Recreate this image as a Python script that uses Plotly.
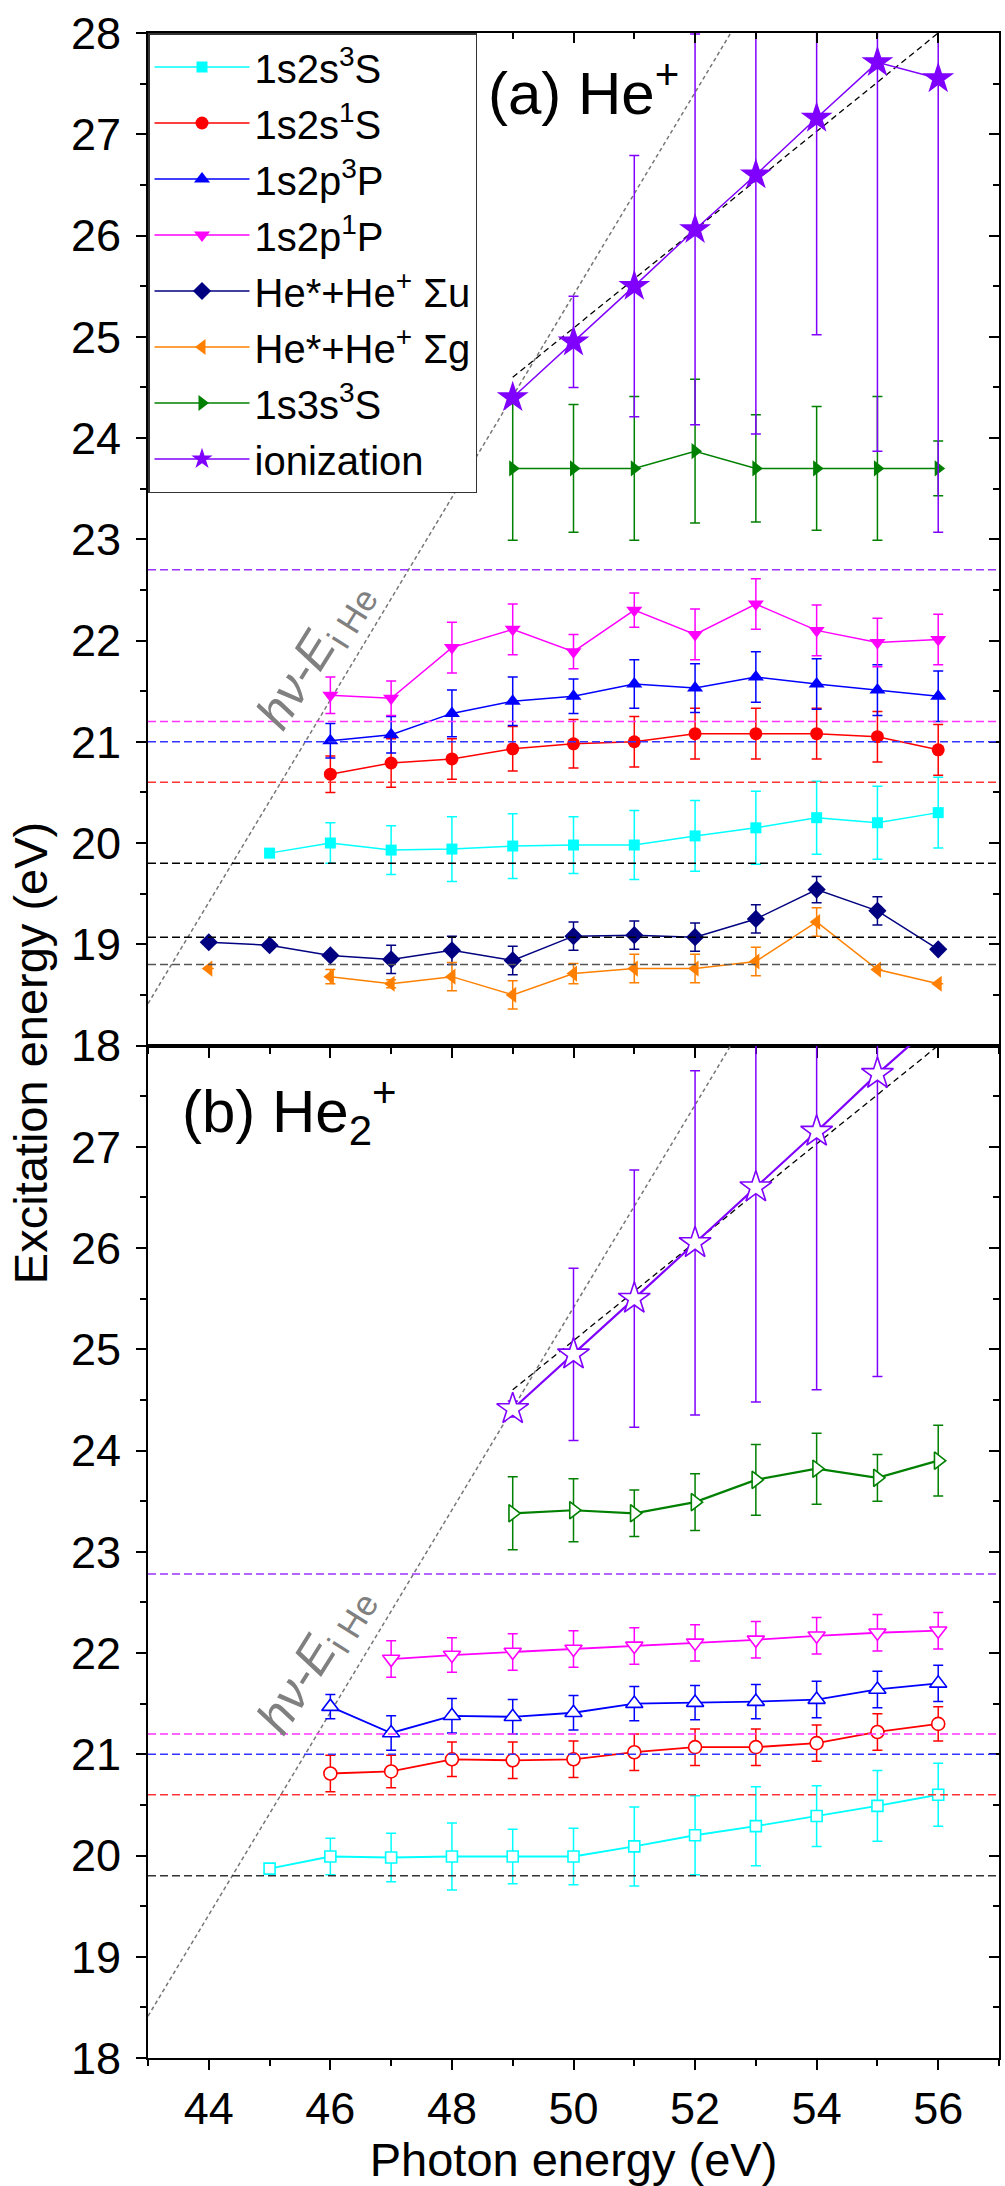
import plotly.graph_objects as go
from plotly.subplots import make_subplots

FONT = "Liberation Sans, Arial, Helvetica, sans-serif"

# ---------------- data : panel (a) He+ ----------------
a_3S_x = [45, 46, 47, 48, 49, 50, 51, 52, 53, 54, 55, 56]
a_3S_y = [19.90, 20.00, 19.93, 19.94, 19.97, 19.98, 19.98, 20.07, 20.15, 20.25, 20.20, 20.30]
a_3S_e = [0, 0.20, 0.24, 0.32, 0.32, 0.28, 0.34, 0.35, 0.36, 0.36, 0.36, 0.35]

a_1S_x = [46, 47, 48, 49, 50, 51, 52, 53, 54, 55, 56]
a_1S_y = [20.68, 20.79, 20.83, 20.93, 20.98, 21.00, 21.08, 21.08, 21.08, 21.05, 20.92]
a_1S_e = [0.18, 0.24, 0.20, 0.22, 0.24, 0.25, 0.25, 0.25, 0.25, 0.25, 0.25]

a_3P_x = [46, 47, 48, 49, 50, 51, 52, 53, 54, 55, 56]
a_3P_y = [21.01, 21.07, 21.28, 21.40, 21.45, 21.57, 21.53, 21.64, 21.57, 21.51, 21.45]
a_3P_e = [0.17, 0.18, 0.23, 0.24, 0.17, 0.24, 0.24, 0.25, 0.25, 0.25, 0.25]

a_1P_x = [46, 47, 48, 49, 50, 51, 52, 53, 54, 55, 56]
a_1P_y = [21.46, 21.43, 21.93, 22.11, 21.89, 22.30, 22.06, 22.36, 22.10, 21.98, 22.01]
a_1P_e = [0.18, 0.17, 0.25, 0.25, 0.17, 0.17, 0.25, 0.25, 0.25, 0.24, 0.25]

a_Su_x = [44, 45, 46, 47, 48, 49, 50, 51, 52, 53, 54, 55, 56]
a_Su_y = [19.02, 18.99, 18.89, 18.85, 18.94, 18.84, 19.08, 19.09, 19.07, 19.25, 19.54, 19.33, 18.95]
a_Su_e = [0, 0, 0, 0.14, 0.14, 0.14, 0.14, 0.14, 0.14, 0.14, 0.13, 0.14, 0]

a_Sg_x = [44, 45, 46, 47, 48, 49, 50, 51, 52, 53, 54, 55, 56]
a_Sg_y = [18.76, None, 18.68, 18.61, 18.68, 18.50, 18.71, 18.76, 18.76, 18.83, 19.22, 18.75, 18.61]
a_Sg_e = [0, 0, 0.07, 0.04, 0.14, 0.14, 0.10, 0.14, 0.14, 0.14, 0.14, 0, 0]

a_3s_x = [49, 50, 51, 52, 53, 54, 55, 56]
a_3s_y = [23.70, 23.70, 23.70, 23.87, 23.70, 23.70, 23.70, 23.70]
a_3s_e = [0.71, 0.63, 0.71, 0.71, 0.53, 0.61, 0.71, 0.27]

a_ion_x = [49, 50, 51, 52, 53, 54, 55, 56]
a_ion_y = [24.40, 24.95, 25.50, 26.06, 26.60, 27.16, 27.71, 27.55]
a_ion_e = [0, 0.45, 1.29, 1.93, 2.56, 2.14, 3.84, 4.48]

a_levels = [22.70, 21.20, 21.00, 20.60, 19.80, 19.07, 18.80]
a_level_colors = ["#9933FF", "#FF33FF", "#3333FF", "#FF3333", "#000000", "#000000", "#555555"]

# ---------------- data : panel (b) He2+ ----------------
b_3S_x = [45, 46, 47, 48, 49, 50, 51, 52, 53, 54, 55, 56]
b_3S_y = [19.87, 19.99, 19.98, 19.99, 19.99, 19.99, 20.09, 20.20, 20.29, 20.39, 20.49, 20.60]
b_3S_e = [0, 0.18, 0.24, 0.33, 0.27, 0.28, 0.39, 0.39, 0.39, 0.30, 0.35, 0.31]

b_1S_x = [46, 47, 48, 49, 50, 51, 52, 53, 54, 55, 56]
b_1S_y = [20.81, 20.83, 20.95, 20.94, 20.95, 21.02, 21.07, 21.07, 21.11, 21.22, 21.30]
b_1S_e = [0.18, 0.16, 0.17, 0.18, 0.18, 0.18, 0.18, 0.18, 0.18, 0.18, 0.17]

b_3P_x = [46, 47, 48, 49, 50, 51, 52, 53, 54, 55, 56]
b_3P_y = [21.47, 21.21, 21.38, 21.37, 21.41, 21.50, 21.51, 21.52, 21.54, 21.64, 21.70]
b_3P_e = [0.12, 0.17, 0.17, 0.17, 0.17, 0.17, 0.17, 0.17, 0.18, 0.18, 0.18]

b_1P_x = [47, 48, 49, 50, 51, 52, 53, 54, 55, 56]
b_1P_y = [21.94, 21.98, 22.01, 22.04, 22.07, 22.10, 22.13, 22.17, 22.20, 22.22]
b_1P_e = [0.18, 0.17, 0.18, 0.18, 0.18, 0.18, 0.18, 0.18, 0.18, 0.18]

b_3s_x = [49, 50, 51, 52, 53, 54, 55, 56]
b_3s_y = [23.38, 23.41, 23.38, 23.49, 23.71, 23.82, 23.73, 23.90]
b_3s_e = [0.36, 0.31, 0.23, 0.28, 0.35, 0.35, 0.23, 0.35]

b_ion_x = [49, 50, 51, 52, 53, 54, 55, 56]
b_ion_y = [24.41, 24.95, 25.50, 26.05, 26.60, 27.15, 27.72, 28.25]
b_ion_e = [0.08, 0.85, 1.27, 1.70, 2.12, 2.55, 2.99, 0]

b_levels = [22.78, 21.20, 21.00, 20.60, 19.80]
b_level_colors = ["#9933FF", "#FF33FF", "#3333FF", "#FF3333", "#333333"]

# reference lines
E_ION_HE = 24.587
diag_x = [43, 43 + (28 - 43 + E_ION_HE)]   # hv - Ei(He), from axis start to top
half_x = [49, 56]
half_y = [24.6, 28.0]

x_ticks = [44, 46, 48, 50, 52, 54, 56]

fig = make_subplots(rows=2, cols=1, shared_xaxes=True, vertical_spacing=0)

# reference lines first (drawn underneath)
for row in (1, 2):
    fig.add_trace(go.Scatter(x=diag_x, y=[x - E_ION_HE for x in diag_x], mode="lines",
                             line=dict(color="#777777", width=1.5, dash="4px,3px"),
                             showlegend=False, hoverinfo="skip"), row=row, col=1)
    fig.add_trace(go.Scatter(x=half_x, y=half_y, mode="lines",
                             line=dict(color="#000000", width=1.3, dash="6px,4px"),
                             showlegend=False, hoverinfo="skip"), row=row, col=1)

for v, c in zip(a_levels, a_level_colors):
    fig.add_hline(y=v, line=dict(color=c, width=1.5, dash="8px,4px"), row=1, col=1)
for v, c in zip(b_levels, b_level_colors):
    fig.add_hline(y=v, line=dict(color=c, width=1.5, dash="8px,4px"), row=2, col=1)


def series(row, x, y, e, name, color, symbol, size, lw, legend, hollow=False):
    marker = dict(symbol=symbol, size=size, color=color, line=dict(width=0, color=color))
    if hollow:
        marker = dict(symbol=symbol, size=size, color="white", line=dict(width=1.6, color=color))
    fig.add_trace(go.Scatter(
        x=x, y=y, name=name, mode="lines+markers", connectgaps=False,
        legendgroup=name,
        line=dict(color=color, width=lw), marker=marker,
        error_y=dict(type="data", array=e, visible=True, color=color, thickness=1.5, width=5),
        showlegend=legend), row=row, col=1)


series(1, a_3S_x, a_3S_y, a_3S_e, "1s2s<sup>3</sup>S", "#00FFFF", "square", 11, 1.5, True)
series(1, a_1S_x, a_1S_y, a_1S_e, "1s2s<sup>1</sup>S", "#FF0000", "circle", 13, 1.5, True)
series(1, a_3P_x, a_3P_y, a_3P_e, "1s2p<sup>3</sup>P", "#0000FF", "triangle-up", 14, 1.5, True)
series(1, a_1P_x, a_1P_y, a_1P_e, "1s2p<sup>1</sup>P", "#FF00FF", "triangle-down", 14, 1.5, True)
series(1, a_Su_x, a_Su_y, a_Su_e, "He*+He<sup>+</sup> Σu", "#000080", "diamond", 14, 1.5, True)
series(1, a_Sg_x, a_Sg_y, a_Sg_e, "He*+He<sup>+</sup> Σg", "#FF8000", "triangle-left", 14, 1.5, True)
series(1, a_3s_x, a_3s_y, a_3s_e, "1s3s<sup>3</sup>S", "#008000", "triangle-right", 14, 1.5, True)
series(1, a_ion_x, a_ion_y, a_ion_e, "ionization", "#8000FF", "star", 24, 1.5, True)

series(2, b_3S_x, b_3S_y, b_3S_e, "1s2s3S b", "#00FFFF", "square", 11, 1.8, False, True)
series(2, b_1S_x, b_1S_y, b_1S_e, "1s2s1S b", "#FF0000", "circle", 13, 1.8, False, True)
series(2, b_3P_x, b_3P_y, b_3P_e, "1s2p3P b", "#0000FF", "triangle-up", 15, 1.8, False, True)
series(2, b_1P_x, b_1P_y, b_1P_e, "1s2p1P b", "#FF00FF", "triangle-down", 15, 1.8, False, True)
series(2, b_3s_x, b_3s_y, b_3s_e, "1s3s3S b", "#008000", "triangle-right", 15, 2.2, False, True)
series(2, b_ion_x, b_ion_y, b_ion_e, "ionization b", "#8000FF", "star", 24, 2.2, False, True)

# dummy traces to carry the inward-tick overlay axes
fig.add_trace(go.Scatter(x=[None], y=[None], xaxis="x3", yaxis="y", showlegend=False, hoverinfo="skip"))
fig.add_trace(go.Scatter(x=[None], y=[None], xaxis="x", yaxis="y3", showlegend=False, hoverinfo="skip"))
fig.add_trace(go.Scatter(x=[None], y=[None], xaxis="x2", yaxis="y4", showlegend=False, hoverinfo="skip"))

tickfont = dict(family=FONT, size=45, color="black")
common_x = dict(range=[43, 57], tickvals=x_ticks, ticks="outside", ticklen=10, tickwidth=2,
                tickcolor="black", showline=True, linewidth=2, linecolor="black", mirror=True,
                showgrid=False, zeroline=False,
                minor=dict(dtick=1, tick0=43, ticks="outside", ticklen=6, tickwidth=2, tickcolor="black"))
common_y = dict(range=[18, 28], ticks="outside", ticklen=10, tickwidth=2, tickcolor="black",
                showline=True, linewidth=2, linecolor="black", mirror=True, showgrid=False,
                zeroline=False, tickfont=tickfont, ticklabelstandoff=6,
                minor=dict(dtick=0.5, tick0=18, ticks="outside", ticklen=6, tickwidth=2, tickcolor="black"))
inner_y = dict(range=[18, 28], side="right", ticks="inside", ticklen=10, tickwidth=2, tickcolor="black",
               tickvals=list(range(18, 29)), showticklabels=False, showline=False, showgrid=False,
               zeroline=False,
               minor=dict(dtick=0.5, tick0=18, ticks="inside", ticklen=6, tickwidth=2, tickcolor="black"))

fig.update_layout(
    width=1005, height=2186,
    margin=dict(l=148, r=4, t=33, b=128),
    paper_bgcolor="white", plot_bgcolor="white",
    font=dict(family=FONT, color="black"),
    xaxis=dict(**common_x, showticklabels=False),
    xaxis2=dict(**common_x, showticklabels=True, tickfont=tickfont,
                title=dict(text="Photon energy (eV)", font=dict(family=FONT, size=47), standoff=6)),
    yaxis=dict(**common_y, tickvals=list(range(18, 29))),
    yaxis2=dict(**common_y, tickvals=list(range(18, 28))),
    xaxis3=dict(overlaying="x", anchor="y", side="top", range=[43, 57], tickvals=x_ticks,
                ticks="inside", ticklen=10, tickwidth=2, tickcolor="black", showticklabels=False,
                showline=False, showgrid=False, zeroline=False,
                minor=dict(dtick=1, tick0=43, ticks="inside", ticklen=6, tickwidth=2, tickcolor="black")),
    yaxis3=dict(overlaying="y", anchor="x", **inner_y),
    yaxis4=dict(overlaying="y2", anchor="x2", **inner_y),
    legend=dict(x=0, y=1, xanchor="left", yanchor="top", bgcolor="white",
                bordercolor="#333333", borderwidth=1.5, font=dict(family=FONT, size=40),
                itemwidth=95, tracegroupgap=1, traceorder="grouped"),
    showlegend=True,
)

ann = []
ann.append(dict(text="Excitation energy (eV)", xref="paper", yref="paper", x=-0.138, y=0.496,
                textangle=-90, showarrow=False, font=dict(family=FONT, size=47),
                xanchor="center", yanchor="middle"))
ann.append(dict(text="(a) He<sup>+</sup>", xref="x", yref="y", x=48.56, y=27.45,
                showarrow=False, font=dict(family=FONT, size=60), xanchor="left", yanchor="middle"))
ann.append(dict(text="(b) He<sub>2</sub><sup>+</sup>", xref="x2", yref="y2", x=43.53, y=27.35,
                showarrow=False, font=dict(family=FONT, size=60), xanchor="left", yanchor="middle"))
for xr, yr, yy in (("x", "y", 21.85), ("x2", "y2", 21.93)):
    ann.append(dict(text="<i>hν</i>-<i>E</i><sub>i He</sub>", xref=xr, yref=yr, x=45.75, y=yy,
                    textangle=-58, showarrow=False, font=dict(family=FONT, size=50, color="#808080"),
                    xanchor="center", yanchor="middle"))
fig.update_layout(annotations=ann)

fig.write_html("out.html")
